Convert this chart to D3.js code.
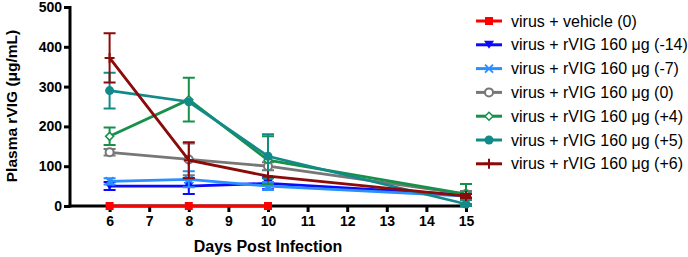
<!DOCTYPE html>
<html lang="en">
<head>
<meta charset="UTF-8">
<script src="https://d3js.org/d3.v7.min.js"></script>
<title>Plasma rVIG</title>
<style>
  body { margin: 0; background: #fff; }
  text { font-family: "Liberation Sans", Arial, sans-serif; }
</style>
</head>
<body>
<script>
// days and series
var days = [6, 8, 10, 15];
var names = ["virus + vehicle (0)", "virus + rVIG 160 \u03bcg (-14)", "virus + rVIG 160 \u03bcg (-7)",
  "virus + rVIG 160 \u03bcg (0)", "virus + rVIG 160 \u03bcg (+4)", "virus + rVIG 160 \u03bcg (+5)",
  "virus + rVIG 160 \u03bcg (+6)"];
var colors = ["#ff0000", "#0a0aff", "#2a8fff", "#777777", "#17904a", "#138a8a", "#8b0a0a"];
var symbols = ["square", "tridown", "cross", "ocircle", "diamond", "circle", "plus"];
var vehicle = [0, 0, 0, null];
var m14 = [50, 50, 57, 28];
var m7 = [62, 67, 50, 25];
var d0 = [135, 117, 100, 30];
var p4 = [175, 267, 115, 30];
var p5 = [290, 262, 125, 5];
var p6 = [372, 115, 75, 25];
var vehicleErr = [0, 0, 0, null];
var m14Err = [10, 20, 15, 10];
var m7Err = [8, 20, 10, 8];
var d0Err = [8, 40, 10, 8];
var p4Err = [22, 55, 60, 25];
var p5Err = [45, 0, 55, 10];
var p6Err = [62, 45, 0, 5];
var series = [vehicle, m14, m7, d0, p4, p5, p6];
var errs = [vehicleErr, m14Err, m7Err, d0Err, p4Err, p5Err, p6Err];
var xTicks = [6, 7, 8, 9, 10, 11, 12, 13, 14, 15];
var yTicks = [0, 100, 200, 300, 400, 500];

var width = 688, height = 257;
var svg = d3.select("body").append("svg").attr("width", width).attr("height", height);

var x = d3.scaleLinear().domain([5, 15]).range([70, 466]);
var y = d3.scaleLinear().domain([0, 500]).range([206, 7]);

// axes
var xAxis = svg.append("g").attr("transform", "translate(0,206)")
  .call(d3.axisBottom(x).tickValues(xTicks).tickSizeOuter(0).tickSize(6).tickPadding(4));
var yAxis = svg.append("g").attr("transform", "translate(70,0)")
  .call(d3.axisLeft(y).tickValues(yTicks).tickSizeOuter(0).tickSize(6).tickPadding(2));
[xAxis, yAxis].forEach(function (a) {
  a.select(".domain").attr("stroke", "#000").attr("stroke-width", 3);
  a.selectAll(".tick line").attr("stroke", "#000").attr("stroke-width", 3);
  a.selectAll("text").attr("fill", "#000").style("font-size", "14px").style("font-weight", "bold");
});
xAxis.select(".domain").attr("d", "M68.5,0H466");
yAxis.select(".domain").attr("d", "M0,207.5V6");

svg.append("text").attr("x", 268).attr("y", 252).attr("text-anchor", "middle")
  .style("font-size", "16px").style("font-weight", "bold").text("Days Post Infection");
svg.append("text").attr("transform", "translate(17,106) rotate(-90)").attr("text-anchor", "middle")
  .style("font-size", "15.5px").style("font-weight", "bold").text("Plasma rVIG (\u03bcg/mL)");

function marker(g, type, color) {
  var s = 4;
  if (type === "square") g.append("rect").attr("x", -s).attr("y", -s).attr("width", 2 * s).attr("height", 2 * s).attr("fill", color);
  else if (type === "tridown") g.append("path").attr("d", "M-5,-4L5,-4L0,4Z").attr("fill", color);
  else if (type === "cross") g.append("path").attr("d", "M-4,-4L4,4M-4,4L4,-4").attr("stroke", color).attr("stroke-width", 2);
  else if (type === "ocircle") g.append("circle").attr("r", 4).attr("fill", "#fff").attr("stroke", color).attr("stroke-width", 2);
  else if (type === "diamond") g.append("path").attr("d", "M0,-4L4,0L0,4L-4,0Z").attr("fill", "#fff").attr("stroke", color).attr("stroke-width", 1.5);
  else if (type === "circle") g.append("circle").attr("r", 4.5).attr("fill", color);
  else if (type === "plus") g.append("path").attr("d", "M0,-5V5M-5,0H5").attr("stroke", color).attr("stroke-width", 2);
}

var line = d3.line().defined(function (d) { return d.v != null; })
  .x(function (d) { return x(d.day); }).y(function (d) { return y(d.v); });

series.forEach(function (vals, i) {
  var pts = days.map(function (d, j) { return { day: d, v: vals[j], e: errs[i][j] }; })
    .filter(function (p) { return p.v != null; });
  var g = svg.append("g");
  g.append("path").attr("d", line(pts)).attr("fill", "none")
    .attr("stroke", colors[i]).attr("stroke-width", 2.8);
  pts.forEach(function (p) {
    if (p.e > 0) {
      var cx = x(p.day), t = y(p.v + p.e), b = y(Math.max(0, p.v - p.e));
      g.append("path").attr("d", "M" + cx + "," + t + "V" + b + "M" + (cx - 6) + "," + t + "H" + (cx + 6) + "M" + (cx - 6) + "," + b + "H" + (cx + 6))
        .attr("stroke", colors[i]).attr("stroke-width", 2).attr("fill", "none");
    }
    marker(g.append("g").attr("transform", "translate(" + x(p.day) + "," + y(p.v) + ")"), symbols[i], colors[i]);
  });
});

// legend
var leg = svg.append("g").attr("transform", "translate(476,21)");
names.forEach(function (n, i) {
  var r = leg.append("g").attr("transform", "translate(0," + (i * 23.8) + ")");
  r.append("line").attr("x1", 0).attr("x2", 26).attr("stroke", colors[i]).attr("stroke-width", 3);
  marker(r.append("g").attr("transform", "translate(13,0)"), symbols[i], colors[i]);
  r.append("text").attr("x", 35).attr("y", 5.5).style("font-size", "16px").attr("fill", "#000").text(n);
});
</script>
</body>
</html>
